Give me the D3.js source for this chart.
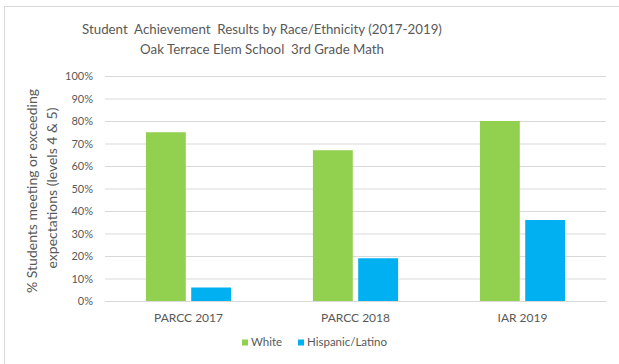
<!DOCTYPE html>
<html>
<head>
<meta charset="utf-8">
<script src="https://cdn.jsdelivr.net/npm/d3@7"></script>
<style>
  html, body { margin: 0; padding: 0; background: #fff; }
  svg { display: block; }
  text { font-family: Lato, "Open Sans", sans-serif; fill: #595959; white-space: pre; }
</style>
</head>
<body>
<svg id="chart" width="619" height="364"></svg>
<script>
// Assessment years and the share of students meeting or exceeding expectations
const categories = ["PARCC 2017", "PARCC 2018", "IAR 2019"];
const seriesNames = ["White", "Hispanic/Latino"];
const whiteValues = [75, 67, 80];
const hispanicValues = [6, 19, 36];
const yTicks = [0, 10, 20, 30, 40, 50, 60, 70, 80, 90, 100];
const colors = ["#92D050", "#00B0F0"];

const titleLines = [
  "Student  Achievement  Results by Race/Ethnicity (2017-2019)",
  "Oak Terrace Elem School  3rd Grade Math"
];
const yTitleLines = ["% Students meeting or exceeding", "expectations (levels 4 & 5)"];

const svg = d3.select("#chart");
const W = 619, H = 364;
const margin = { left: 105, right: 13, top: 76, bottom: 63 };

// outer chart frame
svg.append("rect")
  .attr("x", 4.5).attr("y", 6.5)
  .attr("width", W).attr("height", H)
  .attr("fill", "#fff").attr("stroke", "#d9d9d9").attr("stroke-width", 1);

const x0 = d3.scaleBand()
  .domain(categories)
  .range([margin.left, W - margin.right])
  .paddingInner(0.49).paddingOuter(0.245);

const x1 = d3.scaleBand()
  .domain(seriesNames)
  .range([0, x0.bandwidth()])
  .paddingInner(0.12);

const y = d3.scaleLinear()
  .domain([0, 100])
  .range([H - margin.bottom, margin.top]);

// gridlines and y labels
const yAxis = d3.axisLeft(y)
  .tickValues(yTicks)
  .tickFormat(d => d + "%")
  .tickSize(-(W - margin.right - margin.left))
  .tickPadding(12);

const gy = svg.append("g")
  .attr("transform", `translate(${margin.left},0)`)
  .call(yAxis);
gy.select(".domain").remove();
gy.selectAll(".tick line").attr("stroke", "#d9d9d9").attr("stroke-width", 1);
gy.selectAll(".tick text").style("font-size", "11px").attr("fill", "#595959");

// bars
const rows = categories.map((c, i) => ({ cat: c, vals: [whiteValues[i], hispanicValues[i]] }));
const groups = svg.append("g").selectAll("g")
  .data(rows).join("g")
  .attr("transform", d => `translate(${x0(d.cat)},0)`);

groups.selectAll("rect")
  .data(d => d.vals.map((v, j) => ({ name: seriesNames[j], v, j })))
  .join("rect")
  .attr("x", d => x1(d.name))
  .attr("width", x1.bandwidth())
  .attr("y", d => y(d.v))
  .attr("height", d => y(0) - y(d.v))
  .attr("fill", d => colors[d.j]);

// x axis
const gx = svg.append("g")
  .attr("transform", `translate(0,${y(0)})`)
  .call(d3.axisBottom(x0).tickSize(0).tickPadding(12));
gx.select(".domain").attr("stroke", "#d9d9d9");
gx.selectAll(".tick text").style("font-size", "12px").attr("fill", "#595959");

// title
svg.append("g").selectAll("text")
  .data(titleLines).join("text")
  .attr("x", 262).attr("y", (d, i) => 34 + i * 19.5)
  .attr("text-anchor", "middle")
  .style("font-size", "13.3px")
  .text(d => d);

// y axis title
svg.append("g")
  .attr("transform", "translate(37,191) rotate(-90)")
  .selectAll("text")
  .data(yTitleLines).join("text")
  .attr("x", (d, i) => i * 3).attr("y", (d, i) => i * 20)
  .attr("text-anchor", "middle")
  .style("font-size", "14px")
  .text(d => d);

// legend
const legend = svg.append("g").attr("transform", "translate(242,0)");
const legendX = [0, 56];
seriesNames.forEach((n, i) => {
  const g = legend.append("g").attr("transform", `translate(${legendX[i]},0)`);
  g.append("rect").attr("x", 0).attr("y", 339.5).attr("width", 6).attr("height", 6).attr("fill", colors[i]);
  g.append("text").attr("x", 9).attr("y", 346).style("font-size", "11.5px").text(n);
});
</script>
</body>
</html>
